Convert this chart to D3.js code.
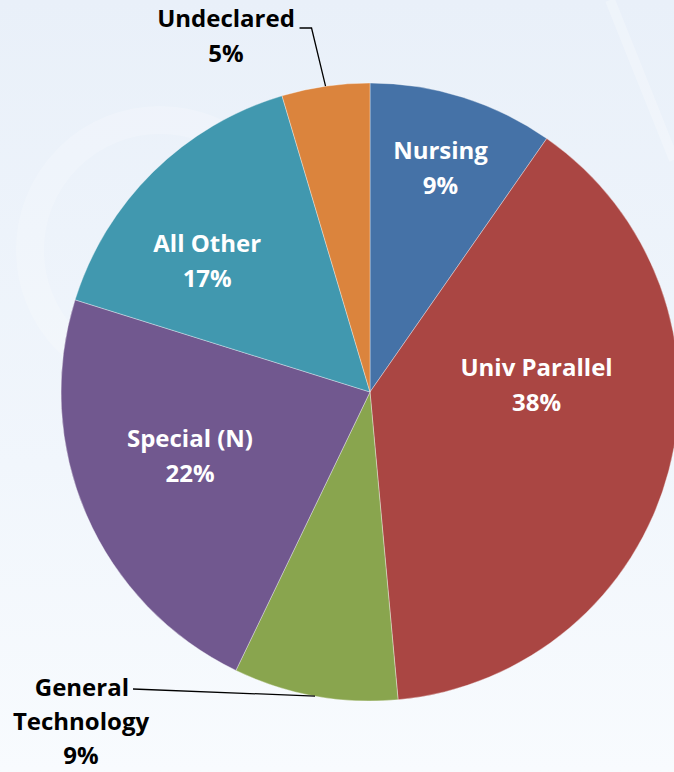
<!DOCTYPE html>
<style>
    body {
        margin: 0;
        font-family: 'Open Sans', sans-serif;
    }

    svg {
        display: block;
    }
</style>
<svg width="674" height="772"></svg>
<script src="https://d3js.org/d3.v7.min.js"></script>
<script>
    // data (clockwise from 12 o'clock)
    var categories = ["Nursing", "Univ Parallel", "General Technology", "Special (N)", "All Other", "Undeclared"];
    var shares = [9.7, 38.9, 8.6, 22.7, 15.6, 4.6];
    var shareLabels = ["9%", "38%", "9%", "22%", "17%", "5%"];
    var colors = ["#4572a7", "#aa4643", "#89a54e", "#71588f", "#4198af", "#db843d"];

    var svg = d3.select("svg"),
        width = +svg.attr("width"),
        height = +svg.attr("height"),
        cx = 370, cy = 392, radius = 309;

    // background
    var defs = svg.append("defs");
    var bg = defs.append("linearGradient")
        .attr("id", "bg")
        .attr("x1", 0).attr("y1", 0).attr("x2", 0).attr("y2", 1);
    bg.append("stop").attr("offset", "0%").attr("stop-color", "#e9f0f9");
    bg.append("stop").attr("offset", "60%").attr("stop-color", "#f1f6fc");
    bg.append("stop").attr("offset", "100%").attr("stop-color", "#f8fbfe");

    svg.append("rect")
        .attr("width", width)
        .attr("height", height)
        .attr("fill", "url(#bg)");

    // faint decorations behind the pie
    svg.append("circle")
        .attr("cx", 160).attr("cy", 250).attr("r", 130)
        .attr("fill", "none")
        .attr("stroke", "#ffffff")
        .attr("stroke-opacity", 0.2)
        .attr("stroke-width", 28);
    svg.append("line")
        .attr("x1", 610).attr("y1", 0).attr("x2", 674).attr("y2", 160)
        .attr("stroke", "#ffffff").attr("stroke-opacity", 0.25).attr("stroke-width", 10);

    var pie = d3.pie().sort(null).value(function (d) { return d; });
    var arcs = pie(shares);

    var arc = d3.arc().innerRadius(0).outerRadius(radius);

    var g = svg.append("g").attr("transform", "translate(" + cx + "," + cy + ")");

    g.selectAll("path")
        .data(arcs)
        .enter().append("path")
        .attr("d", arc)
        .attr("fill", function (d, i) { return colors[i]; })
        .attr("stroke", "#ffffff")
        .attr("stroke-opacity", 0.5)
        .attr("stroke-width", 0.7);

    // label placement: radius fraction and angle nudge (degrees) per slice, null = outside
    var place = [
        {r: 0.77, a: -0.2},
        {r: 0.54, a: -18.3},
        null,
        {r: 0.615, a: 4.8},
        {r: 0.683, a: -5.9},
        null
    ];

    var fontSize = 24,
        lineGap = 35;

    var inside = g.append("g")
        .attr("fill", "#ffffff")
        .attr("font-weight", "bold")
        .attr("font-size", fontSize)
        .attr("text-anchor", "middle");

    arcs.forEach(function (d, i) {
        if (!place[i]) return;
        var mid = (d.startAngle + d.endAngle) / 2 + place[i].a * Math.PI / 180,
            rr = radius * place[i].r,
            x = rr * Math.sin(mid),
            y = -rr * Math.cos(mid);
        inside.append("text").attr("x", x).attr("y", y - 6).text(categories[i]);
        inside.append("text").attr("x", x).attr("y", y - 6 + lineGap).text(shareLabels[i]);
    });

    // outside labels with leader lines
    function edge(d) {
        var mid = (d.startAngle + d.endAngle) / 2;
        return [radius * Math.sin(mid), -radius * Math.cos(mid)];
    }

    var outside = g.append("g")
        .attr("font-weight", "bold")
        .attr("font-size", fontSize)
        .attr("fill", "#000000")
        .attr("text-anchor", "middle");

    // Undeclared
    var pU = edge(arcs[5]);
    g.append("polyline")
        .attr("points", [pU, [pU[0] - 14, -cy + 28], [pU[0] - 26, -cy + 28]].map(function (p) { return p.join(","); }).join(" "))
        .attr("fill", "none")
        .attr("stroke", "#000")
        .attr("stroke-width", 1.3);
    outside.append("text").attr("x", 226 - cx).attr("y", 27 - cy).text(categories[5]);
    outside.append("text").attr("x", 226 - cx).attr("y", 27 + lineGap - cy).text(shareLabels[5]);

    // General Technology
    var pG = edge(arcs[2]);
    g.append("polyline")
        .attr("points", [pG, [133 - cx, 689 - cy]].map(function (p) { return p.join(","); }).join(" "))
        .attr("fill", "none")
        .attr("stroke", "#000")
        .attr("stroke-width", 1.3);
    outside.append("text").attr("x", 129 - cx).attr("y", 696 - cy)
        .attr("text-anchor", "end").text("General");
    outside.append("text").attr("x", 81 - cx).attr("y", 696 + 34 - cy).text("Technology");
    outside.append("text").attr("x", 81 - cx).attr("y", 696 + 68 - cy).text(shareLabels[2]);
</script>
